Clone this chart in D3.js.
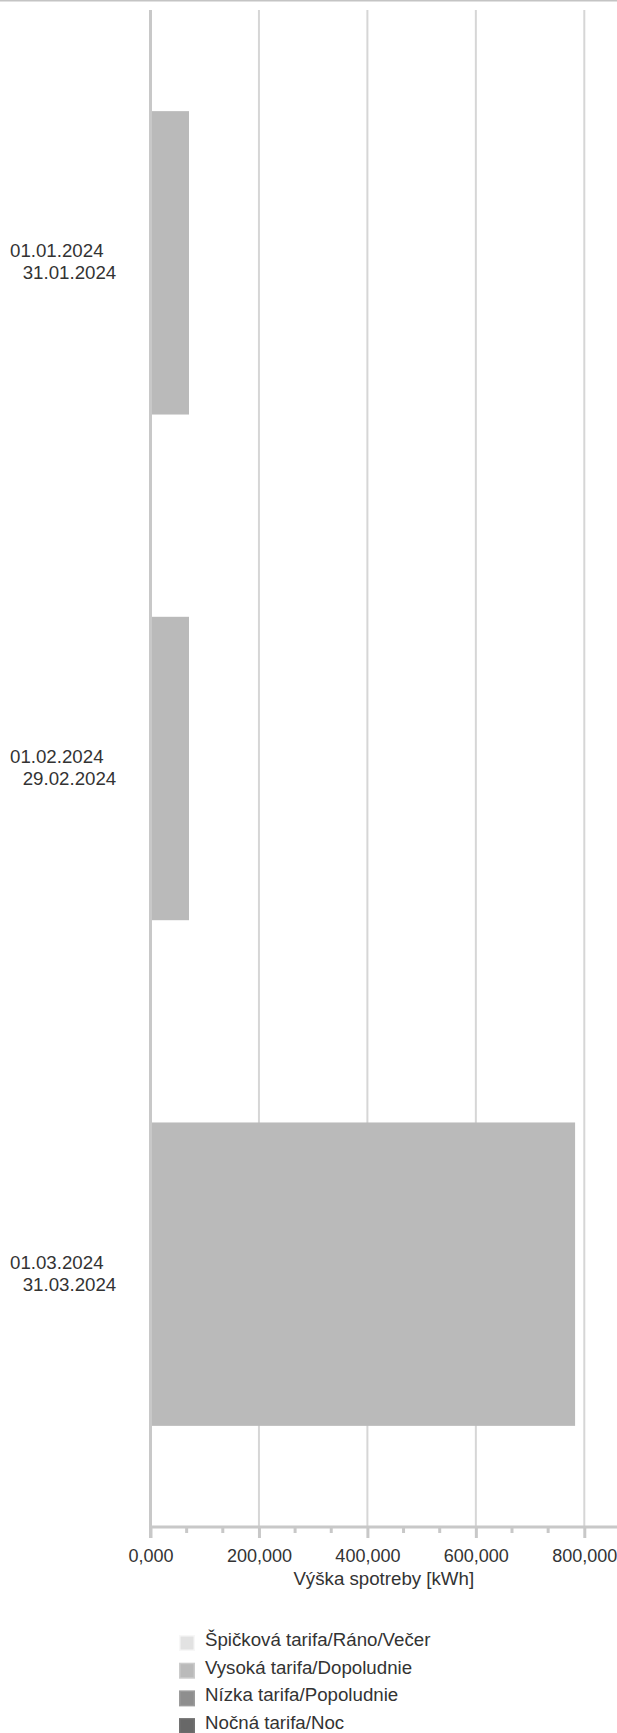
<!DOCTYPE html>
<html>
<head>
<meta charset="utf-8">
<script src="https://cdn.jsdelivr.net/npm/d3@7"></script>
<style>
  body { margin: 0; background: #fff; }
  svg { display: block; font-family: "Liberation Sans", Arial, sans-serif; }
</style>
</head>
<body>
<svg id="chart" width="617" height="1733"></svg>
<script>
// ---- data ----
const categories = [
  ["01.01.2024", "31.01.2024"],
  ["01.02.2024", "29.02.2024"],
  ["01.03.2024", "31.03.2024"]
];
const seriesNames = [
  "Špičková tarifa/Ráno/Večer",
  "Vysoká tarifa/Dopoludnie",
  "Nízka tarifa/Popoludnie",
  "Nočná tarifa/Noc"
];
const spickova = [0, 0, 0];
const vysoka = [71, 71, 783];
const nizka = [0, 0, 0];
const nocna = [0, 0, 0];
const xTicks = [0, 200, 400, 600, 800];
const axisTitle = "Výška spotreby [kWh]";
const seriesColors = ["#e2e2e2", "#bababa", "#8e8e8e", "#686868"];

// ---- layout ----
const FS = 18.7;
const svg = d3.select("#chart");
const W = 617;
const plotTop = 10, plotBottom = 1527;
const x = d3.scaleLinear().domain([0, 800]).range([150.5, 584.3]);
const y = d3.scaleBand().domain(d3.range(categories.length))
  .range([plotTop, plotBottom]).paddingInner(0.4).paddingOuter(0.2);

const locale = d3.formatLocale({decimal: ",", thousands: ".", grouping: [3], currency: ["", "€"]});
const fmt = locale.format(".3f");

// top border
svg.append("line").attr("x1", 0).attr("x2", W).attr("y1", 0.7).attr("y2", 0.7)
  .attr("stroke", "#c4c4c4").attr("stroke-width", 1.5);

// gridlines
svg.append("g").selectAll("line").data(xTicks.slice(1)).join("line")
  .attr("x1", d => x(d)).attr("x2", d => x(d))
  .attr("y1", plotTop).attr("y2", plotBottom)
  .attr("stroke", "#d6d6d6").attr("stroke-width", 2);

// stacked bars
const table = categories.map((c, i) => ({
  i, s0: spickova[i], s1: vysoka[i], s2: nizka[i], s3: nocna[i]
}));
const stack = d3.stack().keys(["s0", "s1", "s2", "s3"]);
const stacked = stack(table);
svg.append("g").selectAll("g").data(stacked).join("g")
  .attr("fill", (d, k) => seriesColors[k])
  .selectAll("rect").data(d => d).join("rect")
  .attr("x", d => x(d[0]) + 1.2)
  .attr("y", d => y(d.data.i))
  .attr("width", d => Math.max(0, x(d[1]) - x(d[0]) - (d[0] === 0 ? 1.2 : 0)))
  .attr("height", y.bandwidth());

// bottom axis
const xAxis = d3.axisBottom(x).tickValues(xTicks).tickFormat(fmt).tickSize(11).tickPadding(11);
const gx = svg.append("g").attr("transform", `translate(0,${plotBottom})`).call(xAxis);
gx.select(".domain").remove();
gx.selectAll(".tick line").attr("stroke", "#c8c8c8").attr("stroke-width", 3);
gx.selectAll(".tick text").attr("fill", "#333").attr("font-size", 18)
  .attr("font-family", "Liberation Sans, Arial, sans-serif");
// minor ticks
const minor = [];
for (let k = 0; k < xTicks.length - 1; k++) {
  const a = xTicks[k], b = xTicks[k + 1];
  minor.push(a + (b - a) / 3, a + 2 * (b - a) / 3);
}
svg.append("g").selectAll("line").data(minor).join("line")
  .attr("x1", d => x(d)).attr("x2", d => x(d))
  .attr("y1", plotBottom).attr("y2", plotBottom + 6)
  .attr("stroke", "#c8c8c8").attr("stroke-width", 3);
// axis lines
svg.append("line").attr("x1", x(0) - 1.5).attr("x2", W).attr("y1", plotBottom).attr("y2", plotBottom)
  .attr("stroke", "#c8c8c8").attr("stroke-width", 3);
svg.append("line").attr("x1", x(0)).attr("x2", x(0)).attr("y1", plotTop).attr("y2", plotBottom + 11)
  .attr("stroke", "#c8c8c8").attr("stroke-width", 3);

// axis title
svg.append("text").attr("x", (x(0) + W) / 2).attr("y", 1585)
  .attr("text-anchor", "middle").attr("font-size", FS).attr("fill", "#333")
  .text(axisTitle);

// category labels
const lab = svg.append("g").selectAll("text").data(categories).join("text")
  .attr("font-size", FS).attr("fill", "#333")
  .attr("y", (d, i) => y(i) + y.bandwidth() / 2 - 5.5);
lab.append("tspan").attr("x", 10).text(d => d[0]);
lab.append("tspan").attr("x", 22.7).attr("dy", 22).text(d => d[1]);

// legend
const leg = svg.append("g").selectAll("g").data(seriesNames).join("g")
  .attr("transform", (d, i) => `translate(179,${1635 + i * 27.7})`);
leg.append("rect").attr("x", 0.75).attr("y", 0.75).attr("width", 14.5).attr("height", 14.5)
  .attr("fill", (d, i) => seriesColors[i])
  .attr("stroke", (d, i) => d3.color(seriesColors[i]).brighter(0.25))
  .attr("stroke-width", 1.5);
leg.append("text").attr("x", 26).attr("y", 11).attr("font-size", FS).attr("fill", "#333")
  .text(d => d);
</script>
</body>
</html>
